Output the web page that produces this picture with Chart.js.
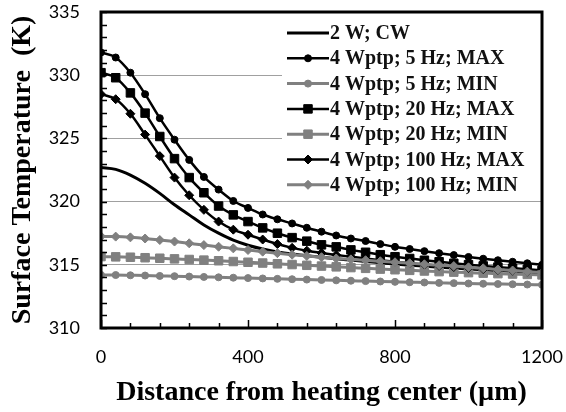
<!DOCTYPE html>
<html>
<head>
<meta charset="utf-8">
<script src="https://cdn.jsdelivr.net/npm/chart.js@4.4.1/dist/chart.umd.min.js"></script>
<style>
  html, body { margin: 0; padding: 0; background: #fff; }
  #wrap { width: 566px; height: 412px; }
</style>
</head>
<body>
<div id="wrap"><canvas id="tempChart"></canvas></div>
<script>
// distance from heating center (µm)
const distance = [0, 40, 80, 120, 160, 200, 240, 280, 320, 360, 400, 440, 480, 520, 560, 600,
                  640, 680, 720, 760, 800, 840, 880, 920, 960, 1000, 1040, 1080, 1120, 1160, 1200];

// surface temperature (K)
const cw2W = [322.7, 322.55, 322.1, 321.45, 320.65, 319.75, 318.95, 318.15, 317.5, 316.95, 316.55,
              316.25, 316.02, 315.85, 315.72, 315.6, 315.48, 315.37, 315.26, 315.16, 315.06,
              314.97, 314.89, 314.81, 314.74, 314.67, 314.6, 314.54, 314.48, 314.42, 314.36];
const max5Hz = [331.8, 331.4, 330.2, 328.5, 326.6, 324.9, 323.3, 321.95, 320.95, 320.05, 319.5,
                318.98, 318.6, 318.27, 317.93, 317.62, 317.32, 317.08, 316.88, 316.64, 316.42,
                316.25, 316.08, 315.92, 315.77, 315.62, 315.48, 315.36, 315.24, 315.12, 315.0];
const min5Hz = [314.2, 314.19, 314.17, 314.15, 314.12, 314.1, 314.07, 314.04, 314.01, 313.98, 313.95,
                313.92, 313.89, 313.86, 313.83, 313.8, 313.77, 313.74, 313.71, 313.68, 313.65,
                313.62, 313.6, 313.57, 313.55, 313.52, 313.5, 313.48, 313.46, 313.44, 313.42];
const max20Hz = [330.2, 329.8, 328.6, 327.0, 325.15, 323.4, 321.9, 320.7, 319.65, 318.95, 318.42,
                 317.92, 317.5, 317.15, 316.87, 316.58, 316.42, 316.18, 315.99, 315.8, 315.64,
                 315.5, 315.36, 315.24, 315.12, 315.01, 314.91, 314.82, 314.73, 314.64, 314.56];
const min20Hz = [315.65, 315.63, 315.6, 315.56, 315.52, 315.47, 315.42, 315.37, 315.32, 315.26, 315.2,
                 315.14, 315.08, 315.02, 314.96, 314.9, 314.84, 314.78, 314.72, 314.66, 314.61,
                 314.56, 314.51, 314.46, 314.42, 314.38, 314.34, 314.3, 314.27, 314.24, 314.2];
const max100Hz = [328.5, 328.1, 326.95, 325.3, 323.6, 321.9, 320.5, 319.35, 318.42, 317.78, 317.38,
                  317.0, 316.64, 316.34, 316.12, 315.94, 315.78, 315.64, 315.5, 315.37, 315.25,
                  315.13, 315.02, 314.92, 314.83, 314.75, 314.67, 314.6, 314.53, 314.46, 314.4];
const min100Hz = [317.25, 317.23, 317.17, 317.08, 316.96, 316.84, 316.7, 316.56, 316.43, 316.3, 316.17,
                  316.04, 315.92, 315.8, 315.7, 315.6, 315.5, 315.43, 315.36, 315.28, 315.2,
                  315.12, 315.04, 314.97, 314.9, 314.8, 314.72, 314.63, 314.55, 314.46, 314.38];

const seriesLabels = ['2 W; CW', '4 Wptp; 5 Hz; MAX', '4 Wptp; 5 Hz; MIN', '4 Wptp; 20 Hz; MAX',
                      '4 Wptp; 20 Hz; MIN', '4 Wptp; 100 Hz; MAX', '4 Wptp; 100 Hz; MIN'];

// axis ticks
const yTicks = [310, 315, 320, 325, 330, 335];
const yMinorTicks = [311, 312, 313, 314, 316, 317, 318, 319, 321, 322, 323, 324, 326, 327, 328, 329, 331, 332, 333, 334];
const xTicks = [0, 400, 800, 1200];
const xMinorTicks = [80, 160, 240, 320, 480, 560, 640, 720, 880, 960, 1040, 1120];

const BLACK = '#000000';
const GREY = '#808080';
const NONE = 'rgba(0,0,0,0)';

function makeSeries(i, values, color, style, radius, width) {
    return {
        label: seriesLabels[i],
        data: distance.map((d, k) => ({ x: d, y: values[k] })),
        borderColor: color,
        backgroundColor: color,
        borderWidth: width,
        pointStyle: style,
        pointRadius: radius,
        pointBorderWidth: 1,
        pointBackgroundColor: color,
        pointBorderColor: color,
        cubicInterpolationMode: 'monotone',
        order: 10 - i
    };
}

const datasets = [
    makeSeries(0, cw2W, BLACK, 'circle', 0, 3),
    makeSeries(1, max5Hz, BLACK, 'circle', 3.5, 2.5),
    makeSeries(2, min5Hz, GREY, 'circle', 3.5, 3),
    makeSeries(3, max20Hz, BLACK, 'rect', 6, 2.5),
    makeSeries(4, min20Hz, GREY, 'rect', 6, 3),
    makeSeries(5, max100Hz, BLACK, 'rectRot', 4.5, 2.5),
    makeSeries(6, min100Hz, GREY, 'rectRot', 4.5, 3)
];

// inner tick marks, legend box and the frame
const frameAndLegend = {
    id: 'frameAndLegend',
    afterDraw(chart) {
        const { ctx, chartArea: a, scales: { x, y } } = chart;
        ctx.save();

        ctx.strokeStyle = BLACK;
        ctx.lineWidth = 1.5;
        ctx.beginPath();
        yMinorTicks.concat(yTicks).forEach(v => {
            const py = Math.round(y.getPixelForValue(v)) + 0.5;
            ctx.moveTo(a.left, py);
            ctx.lineTo(a.left + 6, py);
        });
        xMinorTicks.forEach(v => {
            const px = Math.round(x.getPixelForValue(v)) + 0.5;
            ctx.moveTo(px, a.bottom);
            ctx.lineTo(px, a.bottom - 5);
        });
        xTicks.forEach(v => {
            const px = Math.round(x.getPixelForValue(v)) + 0.5;
            ctx.moveTo(px, a.bottom);
            ctx.lineTo(px, a.bottom - 8);
        });
        ctx.stroke();

        // legend
        const boxLeft = a.left + 181;
        ctx.fillStyle = '#fff';
        ctx.fillRect(boxLeft, a.top + 1, a.right - boxLeft, 186);

        const lineX0 = boxLeft + 5;
        const lineX1 = boxLeft + 47;
        ctx.textAlign = 'left';
        ctx.textBaseline = 'middle';
        ctx.font = 'bold 20px "Liberation Serif", "DejaVu Serif", serif';
        chart.data.datasets.forEach((ds, i) => {
            const rowY = a.top + 21 + i * 25.3;
            ctx.strokeStyle = ds.borderColor;
            ctx.lineWidth = ds.borderWidth;
            ctx.beginPath();
            ctx.moveTo(lineX0, rowY);
            ctx.lineTo(lineX1, rowY);
            ctx.stroke();
            if (ds.pointRadius > 0) {
                ctx.fillStyle = ds.pointBackgroundColor;
                ctx.strokeStyle = ds.pointBorderColor;
                ctx.lineWidth = 1;
                Chart.helpers.drawPoint(ctx, {
                    pointStyle: ds.pointStyle,
                    radius: ds.pointRadius,
                    rotation: 0,
                    borderWidth: 1
                }, (lineX0 + lineX1) / 2, rowY);
            }
            ctx.fillStyle = '#111';
            ctx.fillText(ds.label, lineX1 + 1, rowY + 1);
        });

        ctx.strokeStyle = BLACK;
        ctx.lineWidth = 3;
        ctx.strokeRect(a.left, a.top, a.right - a.left, a.bottom - a.top);
        ctx.restore();
    }
};

const tickFont = { family: 'Lato, "Open Sans", sans-serif', size: 18 };
const titleFont = { family: '"Liberation Serif", "DejaVu Serif", serif', size: 28, weight: 'bold' };

new Chart(document.getElementById('tempChart'), {
    type: 'line',
    data: { datasets: datasets },
    options: {
        responsive: true,
        maintainAspectRatio: false,
        animation: false,
        devicePixelRatio: 1,
        layout: { padding: { top: 12, right: 24, left: 0, bottom: 0 } },
        plugins: {
            legend: { display: false },
            tooltip: { enabled: false }
        },
        scales: {
            x: {
                type: 'linear',
                min: 0,
                max: 1200,
                afterBuildTicks: scale => { scale.ticks = xTicks.map(v => ({ value: v })); },
                afterFit: scale => { scale.height = 84; },
                grid: { display: true, drawOnChartArea: false, drawTicks: true, tickLength: 18, tickColor: NONE, color: NONE },
                border: { display: false },
                ticks: { font: tickFont, color: '#000', padding: 0, maxRotation: 0, callback: v => String(v) },
                title: {
                    display: true,
                    text: 'Distance from heating center (µm)',
                    font: titleFont,
                    color: '#000',
                    padding: { top: 0, bottom: 2 }
                }
            },
            y: {
                min: 310,
                max: 335,
                afterBuildTicks: scale => { scale.ticks = yTicks.map(v => ({ value: v })); },
                afterFit: scale => { scale.width = 101; },
                grid: {
                    drawTicks: true,
                    tickLength: 21,
                    tickColor: NONE,
                    lineWidth: 1,
                    color: ctx => (ctx.tick && (ctx.tick.value === 310 || ctx.tick.value === 335)) ? NONE : '#a0a0a0'
                },
                border: { display: false },
                ticks: { font: tickFont, color: '#000', padding: 0, callback: v => String(v) },
                title: {
                    display: true,
                    text: 'Surface Temperature  (K)',
                    font: titleFont,
                    color: '#000',
                    padding: { top: 6, bottom: 0 }
                }
            }
        }
    },
    plugins: [frameAndLegend]
});
</script>
</body>
</html>
